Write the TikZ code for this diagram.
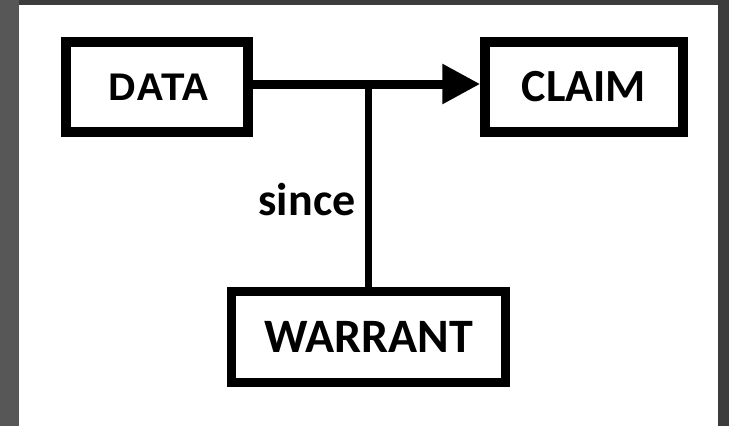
\documentclass[tikz,border=0pt]{standalone}
\usepackage{fontspec}
\setmainfont{Carlito}
\newfontfamily\arialbold{Liberation Sans Bold}
\usetikzlibrary{arrows.meta}
\definecolor{frameL}{HTML}{575757}
\definecolor{frameT}{HTML}{3C3C3C}
\begin{document}
\begin{tikzpicture}[x=1bp,y=-1bp,
  box/.style={draw=black,line width=9.5bp,fill=white,inner sep=0pt,
    font=\fontsize{46bp}{50bp}\selectfont\bfseries},
  lbl/.style={font=\fontsize{46bp}{50bp}\selectfont\bfseries}]
\useasboundingbox (0,0) rectangle (729,426);
\fill[frameT] (0,0) rectangle (729,426);
\fill[frameL] (0,0) rectangle (19,426);
\fill[white] (19,5) rectangle (718,426);
\node[box,minimum width=182bp,minimum height=90bp] (data) at (157,87)
  {\hspace{4bp}{\arialbold\fontsize{38.5bp}{40bp}\selectfont DATA}};
\node[box,minimum width=198bp,minimum height=90bp] (claim) at (584,87) {CLAIM};
\node[box,minimum width=274bp,minimum height=91bp,
  font=\fontsize{48bp}{52bp}\selectfont\bfseries] (warrant) at (368.5,337) {WARRANT};
\coordinate (a) at ([yshift=3bp]data.east);
\coordinate (b) at ([yshift=3bp]claim.west);
\draw[line width=9bp,-{Triangle[length=38bp,width=38bp]}] (a) -- (b);
\draw[line width=7bp] (warrant.north) -- (warrant.north |- a);
\node[lbl,anchor=base] (since) at (307,215) {since};
\end{tikzpicture}
\end{document}
